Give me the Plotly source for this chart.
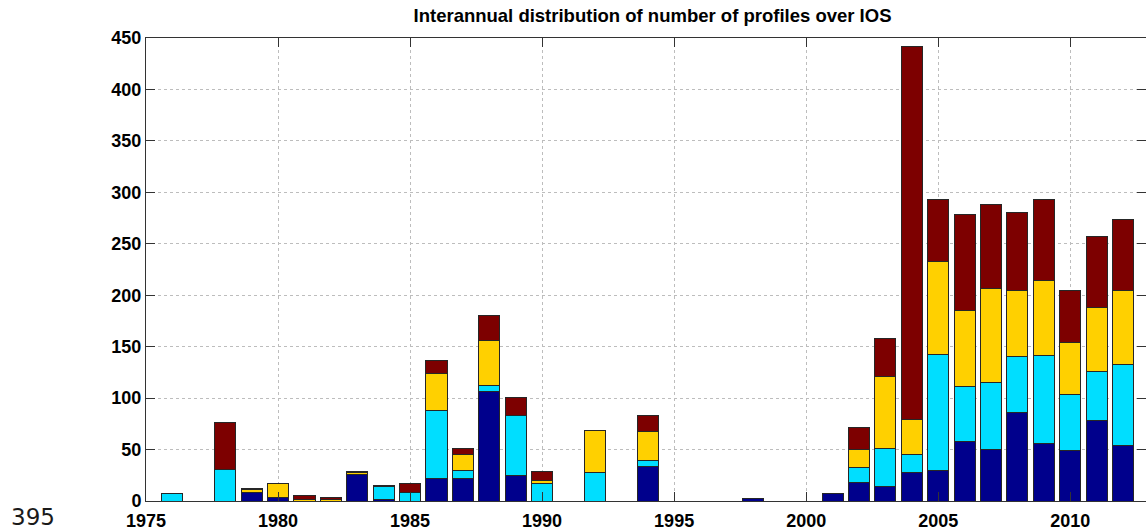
import plotly.graph_objects as go

# Survey years with at least one profile
years = [1976, 1978, 1979, 1980, 1981, 1982, 1983, 1984, 1985, 1986, 1987,
         1988, 1989, 1990, 1992, 1994, 1998, 2001, 2002, 2003, 2004, 2005,
         2006, 2007, 2008, 2009, 2010, 2011, 2012]

# Profile counts per year, one list per stacked category (bottom to top)
navy_counts = [0, 0, 8, 3, 0, 0, 26, 1, 0, 22, 22,
               106, 25, 0, 0, 34, 2, 7, 18, 14, 28, 30,
               58, 50, 86, 56, 49, 78, 54]
cyan_counts = [7, 31, 0, 0, 0, 0, 0, 13, 8, 66, 8,
               6, 58, 17, 28, 5, 0, 0, 15, 37, 17, 112,
               53, 65, 54, 85, 55, 48, 79]
gold_counts = [0, 0, 3, 14, 1, 1, 2, 0, 0, 36, 15,
               44, 0, 3, 41, 29, 0, 0, 17, 70, 34, 91,
               74, 92, 65, 73, 50, 62, 72]
maroon_counts = [0, 45, 1, 0, 4, 2, 1, 1, 9, 13, 6,
                 24, 18, 9, 0, 15, 0, 0, 21, 37, 363, 60,
                 93, 81, 75, 79, 51, 69, 69]

x_ticks = [1975, 1980, 1985, 1990, 1995, 2000, 2005, 2010]
y_ticks = [0, 50, 100, 150, 200, 250, 300, 350, 400, 450]

series = [
    (navy_counts, "#00008C"),
    (cyan_counts, "#00DEFF"),
    (gold_counts, "#FFD000"),
    (maroon_counts, "#7D0000"),
]


def nonzero(values):
    return [v if v else None for v in values]


fig = go.Figure()
for values, color in series:
    fig.add_trace(go.Bar(
        x=years,
        y=nonzero(values),
        width=0.8,
        marker=dict(color=color, line=dict(color="#262626", width=1)),
        showlegend=False,
        hoverinfo="x+y",
    ))

tick_font = dict(family="Liberation Sans, Arial, sans-serif", size=18,
                 color="#000000", weight="bold")

axis_style = dict(
    tickmode="array",
    ticks="inside",
    ticklen=9,
    tickcolor="#333333",
    showline=True,
    linecolor="#333333",
    linewidth=1,
    mirror="ticks",
    showgrid=True,
    gridcolor="#BDBDBD",
    griddash="dot",
    gridwidth=1,
    zeroline=False,
    tickfont=tick_font,
)

fig.update_layout(
    barmode="stack",
    width=1146,
    height=531,
    margin=dict(l=146, r=0, t=38, b=30, pad=0),
    paper_bgcolor="white",
    plot_bgcolor="white",
    title=dict(
        text="Interannual distribution of number of profiles over IOS",
        font=dict(family="Liberation Sans, Arial, sans-serif", size=18.5,
                  color="#000000", weight="bold"),
        x=0.5694, xref="container", xanchor="center",
        y=1 - 16 / 531, yref="container", yanchor="middle",
    ),
    xaxis=dict(
        range=[1975, 2012.87],
        tickvals=x_ticks,
        ticktext=[str(t) for t in x_ticks],
        ticklabelstandoff=3,
        **axis_style,
    ),
    yaxis=dict(
        range=[0, 450],
        tickvals=y_ticks,
        ticktext=[str(t) for t in y_ticks],
        **axis_style,
    ),
    annotations=[
        dict(
            text="395",
            xref="paper", yref="paper",
            x=(32.5 - 146) / 1000, y=-16 / 463,
            xanchor="center", yanchor="middle",
            showarrow=False,
            font=dict(family="DejaVu Sans, sans-serif", size=23, color="#1a1a1a"),
        )
    ],
)

fig.write_html("out.html")
